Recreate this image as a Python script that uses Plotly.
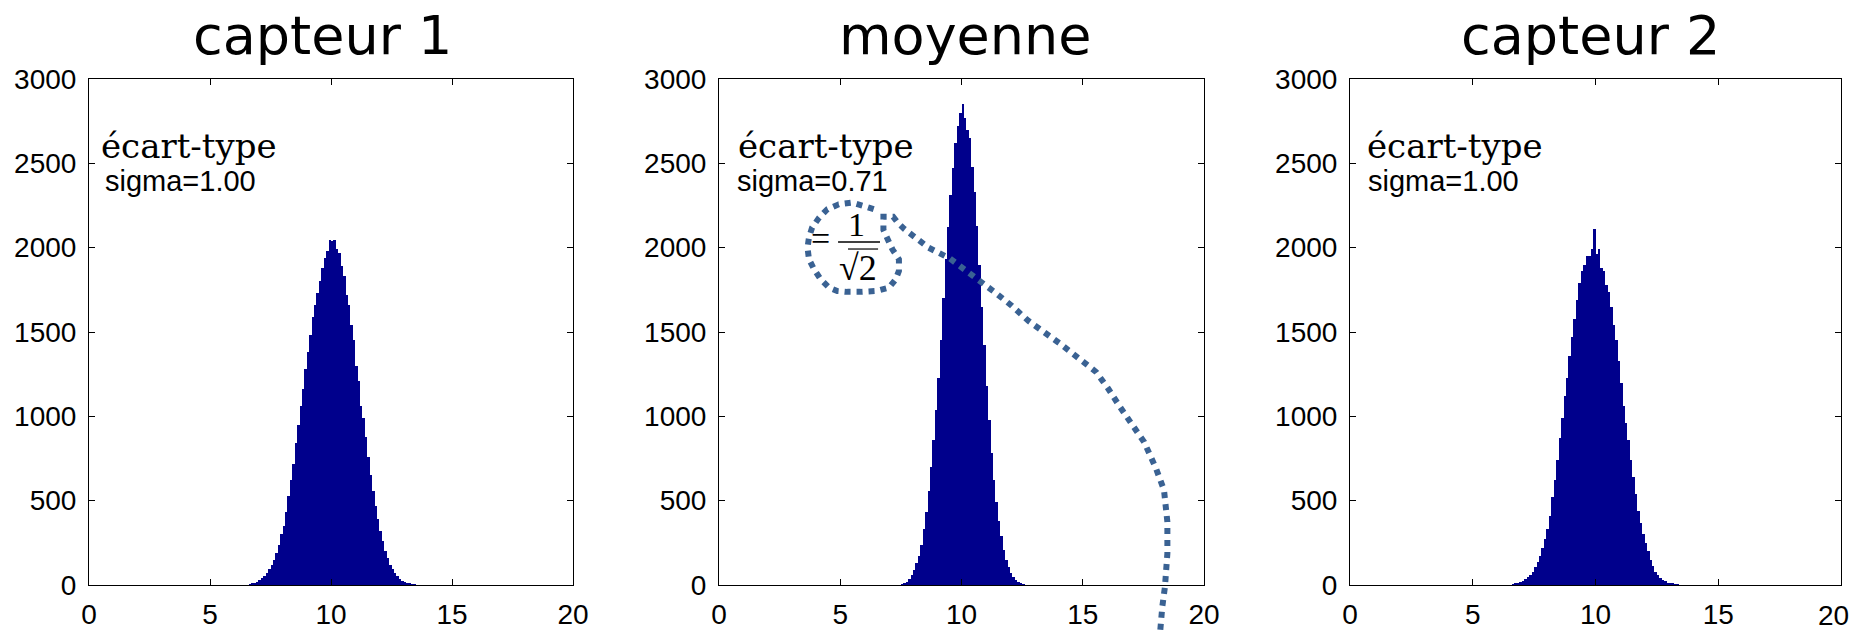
import plotly.graph_objects as go

# ---------------- data ----------------
TITLES = ["capteur 1", "moyenne", "capteur 2"]
SIGMA_LABELS = ["sigma=1.00", "sigma=0.71", "sigma=1.00"]
STD_LABEL = "écart-type"
X_TICKS = [0, 5, 10, 15, 20]
X_TICK_TEXT = ["0", "5", "10", "15", "20"]
Y_TICKS = [0, 500, 1000, 1500, 2000, 2500, 3000]
BIN_WIDTH = 0.1

# capteur 1 : bins starting at 6.6
C1_START = 6.6
C1_COUNTS = [3, 8, 14, 20, 28, 40, 52, 70, 92, 118,
             150, 190, 240, 300, 350, 430, 530, 620, 720, 840,
             950, 1060, 1160, 1280, 1380, 1480, 1590, 1660, 1730, 1800,
             1880, 1940, 1980, 2045, 2040, 2045, 1990, 1970, 1890, 1830,
             1720, 1660, 1540, 1450, 1300, 1210, 1060, 990, 880, 760,
             650, 560, 470, 390, 320, 260, 200, 160, 120, 92,
             70, 52, 38, 26, 18, 12, 8, 5, 3]

# moyenne : bins starting at 7.5
M_START = 7.5
M_COUNTS = [3, 8, 18, 35, 60, 90, 130, 170, 240, 330,
            430, 560, 700, 860, 1040, 1230, 1450, 1700, 1930, 2120,
            2310, 2470, 2620, 2720, 2800, 2850, 2770, 2700, 2650, 2480,
            2330, 2130, 1900, 1650, 1420, 1180, 980, 780, 620, 490,
            380, 290, 210, 150, 105, 72, 48, 30, 18, 9, 4]

# capteur 2 : bins starting at 6.6
C2_START = 6.6
C2_COUNTS = [3, 6, 12, 18, 26, 36, 48, 62, 80, 105,
             135, 170, 220, 270, 330, 410, 520, 620, 740, 870,
             990, 1120, 1230, 1360, 1470, 1580, 1690, 1790, 1860, 1900,
             1950, 1950, 1990, 2110, 1960, 1995, 1880, 1860, 1780, 1740,
             1650, 1540, 1450, 1330, 1200, 1060, 960, 860, 740, 640,
             540, 440, 370, 300, 250, 200, 150, 110, 80, 58,
             42, 30, 21, 14, 9, 6, 4, 2]

# hand-drawn dotted doodle on the middle panel, in that panel's units (x, count)
DOODLE = [(6.38, 2228), (5.97, 2247), (5.49, 2267), (4.94, 2257), (4.47, 2228),
          (4.13, 2178), (3.84, 2119), (3.71, 2060), (3.65, 2000), (3.71, 1931),
          (3.92, 1872), (4.19, 1813), (4.54, 1763), (4.88, 1743), (5.29, 1738),
          (5.84, 1738), (6.46, 1743), (7.01, 1763), (7.29, 1813), (7.42, 1862),
          (7.42, 1931), (7.15, 1990), (6.78, 2105), (6.78, 2184), (7.18, 2184),
          (7.39, 2145), (7.65, 2110), (8.63, 2001), (9.53, 1935), (10.56, 1823),
          (11.38, 1735), (12.07, 1656), (12.75, 1567), (14.06, 1431), (15.05, 1320),
          (15.55, 1263), (16.04, 1166), (16.53, 1057), (17.05, 948), (17.53, 848),
          (18.02, 691), (18.35, 563), (18.49, 374), (18.49, 188), (18.39, -10),
          (18.28, -129), (18.19, -280)]

NAVY = "rgb(0,0,140)"
DOODLE_COLOR = "#3a6293"

# ---------------- figure ----------------
W, H = 1852, 632
ML, MR, MT, MB = 89, 11, 79, 47
PLOT_W = W - ML - MR
PLOT_H = H - MT - MB
panels_px = [(89, 573), (719, 1204), (1350, 1841)]
domains = [[(a - ML) / PLOT_W, (b - ML) / PLOT_W] for a, b in panels_px]

fig = go.Figure()
series = [(C1_START, C1_COUNTS), (M_START, M_COUNTS), (C2_START, C2_COUNTS)]
for i, (start, counts) in enumerate(series):
    centers = [start + BIN_WIDTH * (k + 0.5) for k in range(len(counts))]
    sfx = "" if i == 0 else str(i + 1)
    fig.add_trace(go.Bar(x=centers, y=counts, width=BIN_WIDTH,
                         marker=dict(color=NAVY, line=dict(width=0)),
                         xaxis="x" + sfx, yaxis="y" + sfx, showlegend=False))

tickfont = dict(family="Liberation Sans, Arial, sans-serif", size=28, color="black")
axis_common = dict(showgrid=False, zeroline=False, showline=True, linecolor="black",
                   linewidth=1, mirror="ticks", ticks="inside", ticklen=6,
                   tickcolor="black", tickfont=tickfont, automargin=False,
                   ticklabeloverflow="allow")
layout = dict(width=W, height=H, margin=dict(l=ML, r=MR, t=MT, b=MB, autoexpand=False),
              paper_bgcolor="white", plot_bgcolor="white", bargap=0,
              showlegend=False)
for i in range(3):
    sfx = "" if i == 0 else str(i + 1)
    # last panel: the "20" label sits at the page edge, drawn separately below
    ttext = X_TICK_TEXT if i < 2 else X_TICK_TEXT[:-1] + [""]
    layout["xaxis" + sfx] = dict(domain=domains[i], range=[0, 20], tickvals=X_TICKS,
                                 ticktext=ttext, anchor="y" + sfx, ticklabelstandoff=4,
                                 **axis_common)
    layout["yaxis" + sfx] = dict(domain=[0, 1], range=[0, 3000], tickvals=Y_TICKS,
                                 anchor="x" + sfx, ticklabelstandoff=6, **axis_common)
fig.update_layout(**layout)

# "20" of the last panel, pulled in so it is not cut by the page edge
fig.add_annotation(text=X_TICK_TEXT[-1], xref="paper", yref="paper",
                   x=(W - 1 - ML) / PLOT_W, y=-30 / PLOT_H,
                   xanchor="right", yanchor="middle", showarrow=False,
                   font=tickfont)

# titles and labels
title_x = [9.63, 10.15, 9.78]
std_x = [0.41, 0.70, 0.61]
sig_x = [0.58, 0.66, 0.65]
for i in range(3):
    sfx = "" if i == 0 else str(i + 1)
    fig.add_annotation(text=TITLES[i], xref="x" + sfx, yref="paper", x=title_x[i], y=1.0864,
                       xanchor="center", yanchor="middle", showarrow=False,
                       font=dict(family="DejaVu Sans", size=54, color="black"))
    fig.add_annotation(text=STD_LABEL, xref="x" + sfx, yref="y" + sfx, x=std_x[i], y=2602,
                       xanchor="left", yanchor="middle", showarrow=False,
                       font=dict(family="DejaVu Serif", size=34, color="black"))
    fig.add_annotation(text=SIGMA_LABELS[i], xref="x" + sfx, yref="y" + sfx, x=sig_x[i], y=2395,
                       xanchor="left", yanchor="middle", showarrow=False,
                       font=dict(family="Liberation Sans, Arial", size=29, color="black"))

# "= 1/sqrt(2)" on the middle panel
serif = "Liberation Serif, Times New Roman, serif"
fig.add_annotation(text="=", xref="x2", yref="y2", x=4.17, y=2056, showarrow=False,
                   xanchor="center", yanchor="middle", font=dict(family=serif, size=34, color="black"))
fig.add_annotation(text="1", xref="x2", yref="y2", x=5.69, y=2139, showarrow=False,
                   xanchor="center", yanchor="middle", font=dict(family=serif, size=34, color="black"))
fig.add_annotation(text="√2", xref="x2", yref="y2", x=5.75, y=1877, showarrow=False,
                   xanchor="center", yanchor="middle", font=dict(family=serif, size=36, color="black"))
fig.add_shape(type="line", xref="x2", yref="y2", x0=4.91, x1=6.64, y0=2034, y1=2034,
              line=dict(color="black", width=1.5))
fig.add_shape(type="line", xref="x2", yref="y2", x0=5.32, x1=6.56, y0=1992, y1=1992,
              line=dict(color="black", width=1.2))

# dotted doodle (x in panel units, y as fraction of the panel's 0-3000 range)
path = "M " + " L ".join(f"{x / 20:.4f},{y / 3000:.4f}" for x, y in DOODLE)
fig.add_shape(type="path", path=path, xref="x2 domain", yref="y2 domain",
              line=dict(color=DOODLE_COLOR, width=6, dash="6px,6px"))

fig.write_html("out.html")
